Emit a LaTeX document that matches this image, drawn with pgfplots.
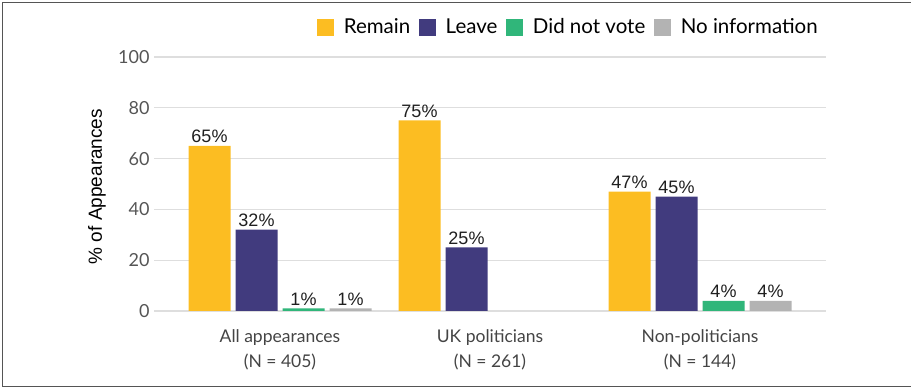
\documentclass[border=0pt]{standalone}
\usepackage{fontspec}
\setmainfont{Lato}
\newfontfamily\arial{Liberation Sans}
\usepackage{pgfplots}
\pgfplotsset{compat=1.18}
\definecolor{remain}{HTML}{FCBD22}
\definecolor{leave}{HTML}{413B7E}
\definecolor{dnv}{HTML}{30B67A}
\definecolor{noinfo}{HTML}{B3B3B3}
\definecolor{gridc}{HTML}{DEDEDE}
\definecolor{framec}{HTML}{555555}
\definecolor{tickc}{HTML}{555555}
\definecolor{catc}{HTML}{444444}
\pgfplotsset{sq legend/.style={legend image code/.code={\fill[##1] (0pt,-8.5pt) rectangle (17pt,8.5pt);}}}
\begin{document}
\begin{tikzpicture}[x=1pt,y=1pt]
\useasboundingbox (0,0) rectangle (911,388);
\draw[color=framec, line width=1.5pt] (911,385.5) -- (2.5,385.5) -- (2.5,1.5) -- (911,1.5);
\begin{axis}[
  at={(154pt,77pt)}, anchor=south west,
  scale only axis, width=672pt, height=254pt,
  xmin=-0.6, xmax=2.6, ymin=0, ymax=100,
  ybar, bar width=42pt,
  axis line style={draw=none}, major tick length=0pt,
  ytick={0,20,40,60,80,100},
  ymajorgrids, grid style={color=gridc, line width=1.2pt},
  xtick={0,1,2},
  xticklabels={{All appearances\\(N = 405)},{UK politicians\\(N = 261)},{Non-politicians\\(N = 144)}},
  xticklabel style={align=center, font=\fontsize{17.5}{25}\selectfont, text=catc, yshift=-15pt},
  yticklabel style={font=\fontsize{18}{20}\selectfont, text=tickc, xshift=-1pt},
  /pgf/number format/assume math mode=true,
  ylabel={\% of Appearances},
  ylabel style={at={(axis description cs:-0.0848,0.49)}, anchor=center, font=\arial\fontsize{19}{22}\selectfont},
  legend columns=-1,
  legend style={at={(axis description cs:0.988,1.118)}, anchor=east, draw=none, fill=none,
    font=\fontsize{20.5}{23}\selectfont, inner sep=0pt, nodes={inner sep=0pt},
    /tikz/every odd column/.append style={column sep=9.5pt},
    /tikz/every even column/.append style={column sep=9pt}},
  nodes near coords={\pgfmathprintnumber{\pgfplotspointmeta}\%},
  every node near coord/.append style={font=\arial\fontsize{18}{20}\selectfont, text=black!88, inner sep=0pt, anchor=south, yshift=3pt},
]
\addplot[fill=remain, draw=none, bar shift=-70.5pt, sq legend] coordinates {(0,65) (1,75) (2,47)};
\addplot[fill=leave, draw=none, bar shift=-23.5pt, sq legend] coordinates {(0,32) (1,25) (2,45)};
\addplot[fill=dnv, draw=none, bar shift=23.5pt, sq legend] coordinates {(0,1) (2,4)};
\addplot[fill=noinfo, draw=none, bar shift=70.5pt, sq legend] coordinates {(0,1) (2,4)};
\legend{Remain,Leave,Did not vote,No information}
\end{axis}
\end{tikzpicture}
\end{document}
